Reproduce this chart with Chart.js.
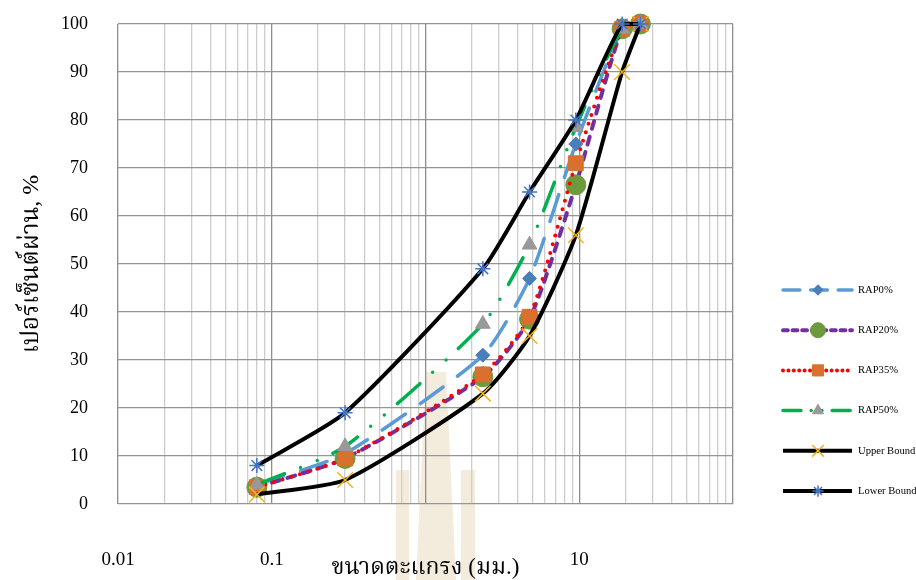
<!DOCTYPE html>
<html>
<head>
<meta charset="utf-8">
<script src="https://cdn.jsdelivr.net/npm/chart.js@4.4.1/dist/chart.umd.min.js"></script>
<style>
  html, body { margin: 0; padding: 0; background: #fff; }
  #wrap { width: 916px; height: 580px; position: relative; }
</style>
</head>
<body>
<div id="wrap"><canvas id="myChart" width="916" height="580"></canvas></div>
<script>
// ขนาดตะแกรง (mm) and percent passing for each mix
const sieveSizes = [0.08, 0.3, 2.36, 4.75, 9.5, 19, 25];
const rap0 = [4, 10.5, 31, 47, 75, 99, 100];
const rap20 = [3.5, 9.5, 26.5, 38.5, 66.5, 99, 100];
const rap35 = [3.5, 9.5, 27, 39, 71, 99, 100];
const rap50 = [4, 12, 37.5, 54, 78.5, 99, 100];
const upperBound = [2, 5, 23, 35, 56, 90, 100];
const lowerBound = [8, 19, 49, 65, 80, 100, 100];
const seriesNames = ['RAP0%', 'RAP20%', 'RAP35%', 'RAP50%', 'Upper Bound', 'Lower Bound'];

// axis ticks (the "1" label sits under the axis title in the original)
const xDecades = [0.01, 0.1, 1, 10, 100];
const xTickLabels = ['0.01', '0.1', '', '10', ''];
const yTicks = [0, 10, 20, 30, 40, 50, 60, 70, 80, 90, 100];

const serif = "'Liberation Serif', 'Times New Roman', serif";
const thai = "'Liberation Serif', 'Noto Serif Thai', 'Noto Sans Thai', 'Tlwg Typo', serif";

function pts(vals) {
  return sieveSizes.map((s, i) => ({ x: s, y: vals[i] }));
}

// all 1..9 multiples of each decade for the log grid
const xGridValues = [];
xDecades.forEach((d, i) => {
  if (i === xDecades.length - 1) { xGridValues.push(d); return; }
  for (let k = 1; k <= 9; k++) xGridValues.push(+(d * k).toPrecision(3));
});

// faint logo behind the chart
const watermark = {
  id: 'watermark',
  beforeDraw(chart) {
    const c = chart.ctx;
    c.save();
    c.fillStyle = 'rgba(214, 190, 140, 0.3)';
    c.beginPath();
    c.moveTo(426, 372); c.lineTo(446, 372); c.lineTo(456, 580); c.lineTo(416, 580);
    c.closePath(); c.fill();
    c.fillRect(396, 470, 13, 110);
    c.fillRect(461, 470, 14, 110);
    c.restore();
  }
};

// Excel-like legend on the right: line sample with marker in the middle
const sideLegend = {
  id: 'sideLegend',
  afterDraw(chart) {
    const c = chart.ctx;
    const drawPoint = Chart.helpers && Chart.helpers.drawPoint;
    chart.data.datasets.forEach((ds, i) => {
      const y = 290 + i * 40.2;
      c.save();
      c.strokeStyle = ds.borderColor;
      c.lineWidth = ds.borderWidth;
      c.lineCap = ds.borderCapStyle || 'butt';
      c.setLineDash((ds.borderDash || []).map(d => d * 0.6));
      c.beginPath(); c.moveTo(783, y); c.lineTo(852, y); c.stroke();
      c.setLineDash([]);
      c.lineCap = 'butt';
      c.fillStyle = ds.pointBackgroundColor;
      c.strokeStyle = ds.pointBorderColor;
      c.lineWidth = ds.pointBorderWidth;
      if (drawPoint) {
        drawPoint(c, { pointStyle: ds.pointStyle, rotation: 0, radius: ds.pointRadius * 0.75, borderWidth: ds.pointBorderWidth }, 818, y);
      }
      c.fillStyle = '#000';
      c.font = '10.6px ' + serif;
      c.textBaseline = 'middle';
      c.fillText(ds.label, 858, y);
      c.restore();
    });
  }
};

const ctx = document.getElementById('myChart').getContext('2d');
const myChart = new Chart(ctx, {
  type: 'line',
  data: {
    datasets: [
      {
        label: seriesNames[0], data: pts(rap0), order: 6,
        borderColor: '#5B9BD5', borderWidth: 3.5, borderDash: [28, 18], borderCapStyle: 'round',
        pointStyle: 'rectRot', pointRadius: 7, pointBackgroundColor: '#4A7EBB', pointBorderColor: '#4A7EBB', pointBorderWidth: 1
      },
      {
        label: seriesNames[1], data: pts(rap20), order: 5,
        borderColor: '#7030A0', borderWidth: 4, borderDash: [8, 8], borderCapStyle: 'round',
        pointStyle: 'circle', pointRadius: 10, pointBackgroundColor: '#6C9A3C', pointBorderColor: '#6C9A3C', pointBorderWidth: 1
      },
      {
        label: seriesNames[2], data: pts(rap35), order: 4,
        borderColor: '#FF0000', borderWidth: 4, borderDash: [0, 9], borderCapStyle: 'round',
        pointStyle: 'rect', pointRadius: 10.5, pointBackgroundColor: '#D9702E', pointBorderColor: '#D9702E', pointBorderWidth: 1
      },
      {
        label: seriesNames[3], data: pts(rap50), order: 3,
        borderColor: '#00B050', borderWidth: 3.5, borderDash: [30, 17, 0, 18, 0, 17], borderCapStyle: 'round',
        pointStyle: 'triangle', pointRadius: 8.5, pointBackgroundColor: '#999999', pointBorderColor: '#999999', pointBorderWidth: 1
      },
      {
        label: seriesNames[4], data: pts(upperBound), order: 2,
        borderColor: '#000000', borderWidth: 4, borderDash: [],
        pointStyle: 'crossRot', pointRadius: 11, pointBackgroundColor: '#F2B318', pointBorderColor: '#F2B318', pointBorderWidth: 1.5
      },
      {
        label: seriesNames[5], data: pts(lowerBound), order: 1,
        borderColor: '#000000', borderWidth: 4, borderDash: [],
        pointStyle: 'star', pointRadius: 7.5, pointBackgroundColor: '#4472C4', pointBorderColor: '#4472C4', pointBorderWidth: 1.5
      }
    ]
  },
  options: {
    responsive: false,
    animation: false,
    clip: false,
    layout: { padding: { top: 24, right: 183, left: 0, bottom: 0 } },
    elements: { line: { tension: 0.2 } },
    plugins: { legend: { display: false }, tooltip: { enabled: false } },
    scales: {
      x: {
        type: 'logarithmic',
        min: 0.01,
        max: 100,
        afterBuildTicks(scale) {
          scale.ticks = xGridValues.map(v => ({ value: v, major: xDecades.includes(v) }));
        },
        afterFit(scale) { scale.height = 76; scale.paddingLeft = 0; scale.paddingRight = 0; },
        ticks: {
          autoSkip: false,
          maxRotation: 0,
          padding: 45,
          color: '#000',
          font: { family: serif, size: 19 },
          callback(value) {
            const k = xDecades.indexOf(+(+value).toPrecision(3));
            return k >= 0 ? xTickLabels[k] : '';
          }
        },
        grid: {
          drawTicks: false,
          lineWidth: 1.3,
          color(c) {
            const v = c.tick ? c.tick.value : 0;
            return xDecades.includes(+(+v).toPrecision(3)) ? '#8e8e8e' : '#cdcdcd';
          }
        },
        border: { display: false },
        title: {
          display: true,
          text: 'ขนาดตะแกรง (มม.)',
          color: '#000',
          font: { family: thai, size: 23 },
          padding: { top: 0, bottom: -2 }
        }
      },
      y: {
        min: 0,
        max: 100,
        afterBuildTicks(scale) {
          scale.ticks = yTicks.map(v => ({ value: v }));
        },
        afterFit(scale) { scale.width = 118; scale.paddingTop = 0; scale.paddingBottom = 0; },
        ticks: {
          padding: 30,
          color: '#000',
          font: { family: serif, size: 18 }
        },
        grid: { drawTicks: false, color: '#959595', lineWidth: 1.3 },
        border: { display: false },
        title: {
          display: true,
          text: 'เปอร์เซ็นต์ผ่าน, %',
          color: '#000',
          font: { family: thai, size: 24 },
          padding: { top: 17, bottom: 0 }
        }
      }
    }
  },
  plugins: [watermark, sideLegend]
});
</script>
</body>
</html>
